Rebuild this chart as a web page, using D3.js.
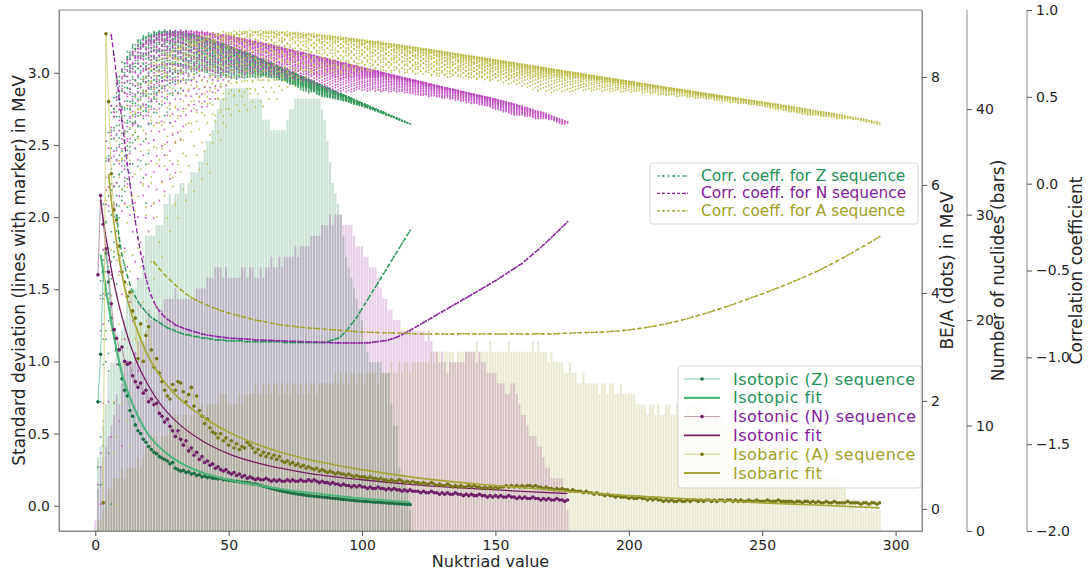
<!DOCTYPE html>
<html>
<head>
<meta charset="utf-8">
<script src="https://cdn.jsdelivr.net/npm/d3@7"></script>
<style>
  body { margin: 0; background: #fff; }
  svg { font-family: "DejaVu Sans", sans-serif; }
</style>
</head>
<body>
<svg id="chart" width="1088" height="576"></svg>
<script>
// ---- Nuclide chart: lightest and heaviest known neutron number for each Z = 1..118
const nMin = [0,1,1,1,2,2,3,4,5,6, 7,7,8,8,10,10,11,11,11,13,
  15,16,17,18,19,19,20,20,23,24, 25,26,27,29,30,31,33,34,35,37,
  38,39,41,42,43,44,45,46,47,49, 51,52,54,55,56,58,59,61,62,64,
  65,66,68,69,71,72,74,75,77,78, 80,81,82,84,85,86,87,88,90,91,
  94,96,100,102,105,107,110,113,116,118, 120,122,125,128,130,133,135,137,139,141,
  144,146,148,149,150,152,153,155,156,157, 161,164,165,170,172,173,174,175];
const nMax = [6,8,10,12,16,17,18,20,22,24, 26,28,30,30,32,33,34,36,38,40,
  42,43,45,46,47,49,50,51,53,55, 56,58,59,60,62,64,66,67,69,71,
  73,75,77,79,81,83,85,86,88,90, 92,93,95,96,97,99,100,101,102,104,
  105,106,106,107,109,109,111,112,114,115, 117,119,121,123,125,126,127,128,130,131,
  134,136,140,142,144,145,146,147,148,149, 150,151,152,153,154,156,157,158,159,160,
  161,162,163,164,165,167,168,169,170,171, 172,173,174,175,176,177,177,176];

// Liquid-drop (Bethe–Weizsäcker) coefficients in MeV for the BE/A dots
const ldmVolume = 15.75, ldmSurface = 17.8, ldmCoulomb = 0.711, ldmAsym = 23.7, ldmPairing = 11.18;

// ---- Standard deviation of each sequence (MeV), one value per integer
const sdZStart = 1;
const sdZ = [0.72,1.05,1.62,1.75,1.55,1.30,1.22,1.08,0.98,0.88,0.80,0.76,0.66,0.62,0.56,0.52,0.50,0.46,0.44,0.41,
  0.39,0.37,0.36,0.34,0.33,0.32,0.31,0.29,0.30,0.26,0.25,0.24,0.245,0.23,0.235,0.22,0.225,0.21,0.215,0.20,
  0.205,0.195,0.20,0.19,0.19,0.185,0.19,0.18,0.18,0.175,0.175,0.17,0.17,0.165,0.165,0.16,0.16,0.155,0.15,0.15,
  0.145,0.14,0.135,0.13,0.125,0.12,0.115,0.11,0.105,0.10,0.097,0.094,0.09,0.087,0.084,0.08,0.078,0.075,0.072,0.07,
  0.068,0.066,0.064,0.062,0.06,0.058,0.056,0.054,0.052,0.05,0.048,0.046,0.044,0.042,0.04,0.038,0.036,0.034,0.033,0.032,
  0.03,0.029,0.028,0.026,0.025,0.024,0.022,0.021,0.02,0.018,0.017,0.016,0.014,0.013,0.012,0.01,0.009,0.008];
const sdNStart = 1;
const sdN = [1.60,2.15,1.95,1.78,1.62,1.40,1.22,1.16,1.08,1.10,1.00,0.98,0.99,0.90,0.86,0.82,0.85,0.78,0.80,0.72,
  0.74,0.70,0.71,0.64,0.62,0.58,0.60,0.55,0.52,0.48,0.52,0.46,0.42,0.45,0.38,0.40,0.35,0.37,0.32,0.34,
  0.30,0.31,0.28,0.29,0.26,0.27,0.25,0.24,0.25,0.23,0.22,0.23,0.21,0.22,0.20,0.21,0.19,0.20,0.19,0.18,
  0.19,0.18,0.18,0.19,0.18,0.17,0.18,0.17,0.18,0.17,0.17,0.18,0.17,0.18,0.17,0.17,0.18,0.17,0.17,0.18,
  0.17,0.18,0.17,0.16,0.17,0.16,0.16,0.15,0.16,0.15,0.15,0.14,0.15,0.14,0.14,0.13,0.14,0.13,0.14,0.13,
  0.13,0.12,0.13,0.12,0.12,0.13,0.12,0.12,0.11,0.12,0.11,0.12,0.11,0.11,0.10,0.11,0.10,0.11,0.10,0.10,
  0.10,0.09,0.10,0.09,0.09,0.10,0.09,0.09,0.08,0.09,0.08,0.09,0.08,0.08,0.09,0.08,0.08,0.07,0.08,0.07,
  0.08,0.07,0.07,0.08,0.07,0.07,0.06,0.07,0.06,0.07,0.06,0.07,0.06,0.06,0.07,0.06,0.06,0.05,0.06,0.05,
  0.06,0.05,0.05,0.06,0.05,0.05,0.04,0.05,0.04,0.05,0.04,0.04,0.05,0.04,0.04,0.03,0.04];
const sdAStart = 3;
const sdA = [0.02,3.27,2.80,2.30,2.05,1.98,1.80,1.62,1.55,1.45,1.48,1.35,1.30,1.02,1.26,1.00,1.18,1.24,
  1.08,0.96,1.02,0.92,0.86,0.80,0.76,0.74,0.84,0.80,0.86,0.85,0.79,0.72,0.77,0.82,0.69,0.76,0.66,0.62,
  0.57,0.60,0.54,0.51,0.50,0.47,0.50,0.45,0.47,0.42,0.45,0.40,0.43,0.39,0.41,0.40,0.44,0.42,0.40,0.37,
  0.39,0.35,0.37,0.34,0.36,0.33,0.35,0.32,0.34,0.31,0.30,0.31,0.29,0.30,0.28,0.29,0.27,0.28,0.26,0.27,
  0.26,0.25,0.26,0.24,0.25,0.24,0.23,0.24,0.23,0.22,0.23,0.22,0.22,0.21,0.22,0.21,0.20,0.21,0.20,0.20,
  0.20,0.19,0.20,0.19,0.19,0.18,0.19,0.18,0.18,0.17,0.18,0.17,0.17,0.18,0.17,0.16,0.17,0.16,0.17,0.16,
  0.16,0.15,0.16,0.15,0.15,0.16,0.15,0.14,0.15,0.14,0.14,0.15,0.14,0.13,0.14,0.13,0.14,0.13,0.13,0.14,
  0.13,0.14,0.13,0.13,0.12,0.13,0.12,0.13,0.12,0.13,0.12,0.13,0.13,0.14,0.13,0.14,0.13,0.14,0.13,0.14,
  0.13,0.14,0.14,0.13,0.14,0.13,0.13,0.12,0.13,0.12,0.12,0.11,0.12,0.11,0.12,0.11,0.11,0.10,0.11,0.10,
  0.10,0.10,0.09,0.10,0.09,0.09,0.08,0.09,0.08,0.08,0.07,0.08,0.07,0.07,0.06,0.07,0.06,0.06,0.06,0.05,
  0.06,0.05,0.05,0.06,0.05,0.05,0.04,0.05,0.04,0.05,0.04,0.04,0.03,0.04,0.03,0.04,0.03,0.03,0.04,0.03,
  0.03,0.04,0.03,0.04,0.04,0.03,0.04,0.03,0.04,0.04,0.03,0.04,0.03,0.04,0.04,0.03,0.04,0.04,0.03,0.04,
  0.03,0.04,0.03,0.03,0.04,0.03,0.03,0.04,0.03,0.03,0.03,0.04,0.03,0.03,0.03,0.04,0.03,0.03,0.03,0.03,
  0.03,0.02,0.03,0.03,0.02,0.03,0.03,0.02,0.03,0.02,0.03,0.02,0.02,0.03,0.02,0.02,0.03,0.02,0.02,0.02,
  0.02,0.03,0.02,0.02,0.02,0.02,0.01,0.02,0.02,0.01,0.02,0.02,0.01,0.02];

// ---- Fitted curves (MeV) at selected nuktriad values
const fitZx = [2,3,4,5,6,8,10,12,15,20,25,30,40,50,60,70,80,90,100,110,118];
const fitZy = [1.74,1.62,1.50,1.38,1.27,1.08,0.92,0.80,0.66,0.49,0.39,0.32,0.23,0.18,0.145,0.115,0.09,0.07,0.05,0.035,0.025];
const fitNx = [2,3,4,5,6,8,10,12,15,20,25,30,40,50,60,80,100,120,140,160,177];
const fitNy = [2.12,1.98,1.86,1.75,1.64,1.46,1.31,1.18,1.02,0.83,0.69,0.59,0.45,0.36,0.30,0.225,0.18,0.145,0.12,0.10,0.085];
const fitAx = [5,6,8,10,12,15,20,25,30,40,50,60,80,100,120,150,180,200,225,250,270,294];
const fitAy = [2.30,2.12,1.82,1.60,1.43,1.25,1.03,0.88,0.77,0.62,0.51,0.43,0.32,0.25,0.195,0.14,0.095,0.07,0.045,0.02,0.005,-0.015];

// ---- Correlation coefficients
const corrZStart = 8, corrZStep = 1;
const corrZ = [-0.18,-0.31,-0.41,-0.47,-0.53,-0.58,-0.62,-0.65,-0.68,-0.70,-0.72,-0.74,-0.755,-0.77,-0.78,-0.79,-0.80,-0.81,-0.82,-0.83,-0.835,-0.84,-0.85,-0.855,-0.86,-0.865,-0.87,-0.87,-0.875,-0.88,-0.88,-0.885,-0.89,
  -0.89,-0.89,-0.895,-0.895,-0.90,-0.90,-0.90,-0.90,-0.905,-0.905,
  -0.905,-0.905,-0.905,-0.905,-0.905,-0.91,-0.91,-0.91,-0.91,-0.91,
  -0.91,-0.91,-0.91,-0.91,-0.91,-0.91,-0.91,-0.91,-0.91,-0.91,
  -0.915,-0.915,-0.915,-0.915,-0.915,-0.915,-0.915,-0.915,-0.915,-0.915,
  -0.915,-0.915,-0.915,-0.915,-0.915,-0.915,-0.91,-0.905,
  -0.90,-0.895,-0.89,-0.88,-0.865,-0.85,-0.83,-0.81,-0.79,-0.77,-0.745,-0.72,
  -0.695,-0.67,-0.645,-0.62,-0.595,-0.57,-0.545,-0.52,-0.495,-0.47,-0.445,-0.42,-0.395,-0.37,-0.345,-0.32,-0.295,-0.27];
const corrNStart = 6, corrNStep = 1;
const corrN = [0.856,0.741,0.614,0.488,0.361,0.234,0.113,-0.002,-0.111,-0.215,-0.313,-0.399,-0.474,-0.543,-0.600,
  -0.646,-0.681,-0.710,-0.733,-0.750,-0.768,-0.78,-0.791,-0.80,-0.814,
  -0.82,-0.826,-0.832,-0.837,-0.842,-0.847,-0.852,-0.856,-0.86,-0.865,
  -0.868,-0.871,-0.874,-0.877,-0.879,-0.881,-0.883,-0.885,-0.887,-0.888,
  -0.89,-0.891,-0.892,-0.893,-0.894,-0.895,-0.896,-0.897,-0.898,-0.90,
  -0.90,-0.901,-0.901,-0.902,-0.902,-0.903,-0.903,-0.904,-0.905,-0.906,
  -0.906,-0.907,-0.907,-0.908,-0.908,-0.909,-0.909,-0.91,-0.91,-0.911,
  -0.911,-0.912,-0.912,-0.913,-0.913,-0.914,-0.914,-0.915,-0.916,-0.917,
  -0.917,-0.917,-0.917,-0.917,-0.917,-0.917,-0.917,-0.917,-0.917,-0.917,
  -0.917,-0.916,-0.915,-0.913,-0.911,-0.909,-0.907,-0.905,-0.903,-0.90,
  -0.895,-0.89,-0.884,-0.877,-0.869,-0.861,-0.853,-0.845,-0.836,-0.827,
  -0.818,-0.809,-0.800,-0.791,-0.782,-0.773,-0.764,-0.755,-0.746,-0.737,
  -0.729,-0.72,-0.711,-0.702,-0.693,-0.684,-0.675,-0.666,-0.658,-0.649,
  -0.64,-0.631,-0.622,-0.613,-0.604,-0.595,-0.586,-0.577,-0.568,-0.559,
  -0.549,-0.539,-0.529,-0.519,-0.509,-0.499,-0.489,-0.479,-0.469,-0.459,
  -0.446,-0.433,-0.42,-0.407,-0.394,-0.381,-0.367,-0.353,-0.339,-0.325,
  -0.31,-0.295,-0.28,-0.265,-0.25,-0.235,-0.22];
const corrAStart = 22, corrAStep = 2;
const corrA = [-0.451,-0.49,-0.525,-0.555,-0.583,-0.61,-0.635,-0.655,-0.672,-0.687,-0.70,-0.713,-0.725,-0.735,-0.745,-0.753,-0.761,-0.769,-0.777,-0.785,
  -0.791,-0.797,-0.803,-0.809,-0.814,-0.818,-0.821,-0.825,-0.828,-0.831,-0.833,-0.835,-0.838,-0.84,-0.842,-0.845,-0.847,-0.85,-0.852,-0.854,
  -0.855,-0.856,-0.857,-0.858,-0.859,-0.86,-0.861,-0.862,-0.863,-0.865,
  -0.865,-0.866,-0.865,-0.864,-0.865,-0.866,-0.865,-0.865,-0.864,-0.865,-0.866,-0.865,-0.865,-0.864,-0.865,-0.866,-0.865,-0.864,-0.865,-0.865,-0.866,-0.865,-0.864,-0.865,-0.865,
  -0.864,-0.863,-0.862,-0.861,-0.859,
  -0.858,-0.857,-0.856,-0.855,-0.854,-0.852,-0.85,-0.848,-0.845,-0.842,
  -0.838,-0.834,-0.829,-0.824,-0.819,-0.813,-0.807,-0.8,-0.793,-0.785,-0.777,-0.768,-0.759,
  -0.75,-0.741,-0.731,-0.721,-0.711,-0.701,-0.69,-0.679,-0.668,-0.657,-0.646,-0.635,
  -0.623,-0.611,-0.599,-0.587,-0.575,-0.562,-0.549,-0.536,-0.522,-0.508,
  -0.494,-0.478,-0.462,-0.446,-0.43,-0.413,-0.396,-0.378,-0.36,-0.342,-0.324,-0.305];

// ---- Tick values
const xTicks = [0,50,100,150,200,250,300];
const sdTicks = [0,0.5,1,1.5,2,2.5,3];
const beTicks = [0,2,4,6,8];
const countTicks = [0,10,20,30,40];
const corrTicks = [-2,-1.5,-1,-0.5,0,0.5,1];

// ---- Series styling
const series = {
  Z: { bar:"#2e8b57", barOp:0.25, dot:"#3a9a62", seqLine:"#72c4a6", seqMark:"#1f6e45", fit:"#4cb57a", fitW:2.0, corr:"#2e9a5c", text:"#25905a" },
  N: { bar:"#800080", barOp:0.19, dot:"#bf4cc0", seqLine:"#b08aa0", seqMark:"#6e1f66", fit:"#762060", fitW:1.3, corr:"#8e2aa0", text:"#82209a" },
  A: { bar:"#808000", barOp:0.17, dot:"#bcbc48", seqLine:"#cfcf86", seqMark:"#76761a", fit:"#a6a636", fitW:1.6, corr:"#a4a42c", text:"#a0a028" }
};

// ---- Geometry
const L = 59, R = 922, T = 10, B = 531;
const x = d3.scaleLinear().domain([-13.6, 309.9]).range([L, R]);
const ySd = d3.scaleLinear().domain([-0.175, 3.435]).range([B, T]);
const yBe = d3.scaleLinear().domain([-0.41, 9.24]).range([B, T]);
const yCount = d3.scaleLinear().domain([0, 49.4]).range([B, T]);
const yCorr = d3.scaleLinear().domain([-2, 1]).range([B, T]);

const svg = d3.select("#chart");
svg.append("defs").append("clipPath").attr("id", "plotArea")
  .append("rect").attr("x", L).attr("y", T).attr("width", R - L).attr("height", B - T);
const plot = svg.append("g").attr("clip-path", "url(#plotArea)");

// ---- Build the nuclide list, counts per sequence and BE/A per nuclide
const nuclides = [];
const countZ = new Map(), countN = new Map(), countA = new Map();
nMin.forEach((lo, i) => {
  const Z = i + 1;
  for (let N = lo; N <= nMax[i]; N++) {
    const A = Z + N;
    let be = ldmVolume * A - ldmSurface * Math.cbrt(A * A) - ldmCoulomb * Z * (Z - 1) / Math.cbrt(A)
      - ldmAsym * (N - Z) * (N - Z) / A;
    if (Z % 2 === 0 && N % 2 === 0) be += ldmPairing / Math.sqrt(A);
    else if (Z % 2 === 1 && N % 2 === 1) be -= ldmPairing / Math.sqrt(A);
    nuclides.push({ Z, N, A, beA: be / A });
    countZ.set(Z, (countZ.get(Z) || 0) + 1);
    countN.set(N, (countN.get(N) || 0) + 1);
    countA.set(A, (countA.get(A) || 0) + 1);
  }
});

// ---- Bars: number of nuclides per sequence value
function drawBars(counts, s) {
  plot.append("g").attr("fill", s.bar).attr("fill-opacity", s.barOp)
    .selectAll("rect").data(Array.from(counts)).join("rect")
    .attr("x", d => x(d[0] - 0.4))
    .attr("width", d => x(d[0] + 0.4) - x(d[0] - 0.4))
    .attr("y", d => yCount(d[1]))
    .attr("height", d => yCount(0) - yCount(d[1]));
}
drawBars(countZ, series.Z);
drawBars(countN, series.N);
drawBars(countA, series.A);

// ---- Dots: binding energy per nucleon
const bound = nuclides.filter(d => d.beA > 0);
["Z", "N", "A"].forEach(key => {
  plot.append("g").attr("fill", series[key].dot).attr("fill-opacity", 0.85)
    .selectAll("circle").data(bound).join("circle")
    .attr("cx", d => x(d[key])).attr("cy", d => yBe(d.beA)).attr("r", 0.95);
});

// ---- Standard deviation sequences and fits
function seqPoints(start, vals, step = 1) { return vals.map((v, i) => [start + i * step, v]); }
function drawSequence(pts, s) {
  const g = plot.append("g");
  g.append("path").datum(pts)
    .attr("d", d3.line().x(d => x(d[0])).y(d => ySd(d[1])))
    .attr("fill", "none").attr("stroke", s.seqLine).attr("stroke-width", 0.9);
  g.selectAll("circle").data(pts).join("circle")
    .attr("cx", d => x(d[0])).attr("cy", d => ySd(d[1])).attr("r", 1.8)
    .attr("fill", s.seqMark);
}
function drawFit(xs, ys, s) {
  plot.append("path").datum(xs.map((v, i) => [v, ys[i]]))
    .attr("d", d3.line().curve(d3.curveMonotoneX).x(d => x(d[0])).y(d => ySd(d[1])))
    .attr("fill", "none").attr("stroke", s.fit).attr("stroke-width", s.fitW);
}
drawSequence(seqPoints(sdZStart, sdZ), series.Z);
drawFit(fitZx, fitZy, series.Z);
drawSequence(seqPoints(sdNStart, sdN), series.N);
drawFit(fitNx, fitNy, series.N);
drawSequence(seqPoints(sdAStart, sdA), series.A);
drawFit(fitAx, fitAy, series.A);

// ---- Correlation coefficients
function drawCorr(pts, s) {
  const g = plot.append("g");
  g.append("path").datum(pts)
    .attr("d", d3.line().x(d => x(d[0])).y(d => yCorr(d[1])))
    .attr("fill", "none").attr("stroke", s.corr).attr("stroke-width", 1.3)
    .attr("stroke-dasharray", "5,2.5");
  g.selectAll("circle").data(pts).join("circle")
    .attr("cx", d => x(d[0])).attr("cy", d => yCorr(d[1])).attr("r", 1.0)
    .attr("fill", s.corr);
}
drawCorr(seqPoints(corrZStart, corrZ, corrZStep), series.Z);
drawCorr(seqPoints(corrNStart, corrN, corrNStep), series.N);
drawCorr(seqPoints(corrAStart, corrA, corrAStep), series.A);

// ---- Frame and axes
const frameColor = "#8a8a8a", textColor = "#262626";
svg.append("rect").attr("x", L).attr("y", T).attr("width", R - L).attr("height", B - T)
  .attr("fill", "none").attr("stroke", frameColor).attr("stroke-width", 1);

function styleAxis(g) {
  g.select(".domain").attr("stroke", frameColor);
  g.selectAll(".tick line").attr("stroke", "#555");
  g.selectAll(".tick text").attr("fill", textColor).attr("font-size", 14)
    .attr("font-family", "DejaVu Sans, sans-serif");
}
const fmt1 = d3.format(".1f");
svg.append("g").attr("transform", `translate(${L},0)`)
  .call(d3.axisLeft(ySd).tickValues(sdTicks).tickFormat(fmt1).tickSize(5).tickSizeOuter(0).tickPadding(4))
  .call(styleAxis);
svg.append("g").attr("transform", `translate(0,${B})`)
  .call(d3.axisBottom(x).tickValues(xTicks).tickFormat(d3.format("d")).tickSize(5).tickSizeOuter(0).tickPadding(4))
  .call(styleAxis);
svg.append("g").attr("transform", `translate(${R},0)`)
  .call(d3.axisRight(yBe).tickValues(beTicks).tickFormat(d3.format("d")).tickSize(5).tickSizeOuter(0).tickPadding(4))
  .call(styleAxis);
const countAxis = svg.append("g").attr("transform", "translate(967,0)")
  .call(d3.axisRight(yCount).tickValues(countTicks).tickFormat(d3.format("d")).tickSize(5).tickSizeOuter(0).tickPadding(4))
  .call(styleAxis);
countAxis.select(".domain").attr("d", `M0,${T}V${B}`);
const corrAxis = svg.append("g").attr("transform", "translate(1027,0)")
  .call(d3.axisRight(yCorr).tickValues(corrTicks).tickFormat(fmt1).tickSize(5).tickSizeOuter(0).tickPadding(4))
  .call(styleAxis);
corrAxis.select(".domain").attr("d", `M0,${T}V${B}`);

// ---- Axis titles
function vLabel(cx, text) {
  svg.append("text").attr("transform", `translate(${cx},${(T + B) / 2}) rotate(-90)`)
    .attr("text-anchor", "middle").attr("dominant-baseline", "central")
    .attr("font-size", 17).attr("fill", textColor).text(text);
}
vLabel(19, "Standard deviation (lines with marker) in MeV");
vLabel(947, "BE/A (dots) in MeV");
vLabel(998, "Number of nuclides (bars)");
vLabel(1076, "Correlation coefficient");
svg.append("text").attr("x", (L + R) / 2).attr("y", 567).attr("text-anchor", "middle")
  .attr("font-size", 16).attr("fill", textColor).text("Nuktriad value");

// ---- Legend: correlation coefficients
const corrLegend = svg.append("g");
corrLegend.append("rect").attr("x", 650).attr("y", 163).attr("width", 268).attr("height", 61).attr("rx", 3)
  .attr("fill", "#fff").attr("fill-opacity", 0.85).attr("stroke", "#d6d6d6");
[["Corr. coeff. for Z sequence", series.Z], ["Corr. coeff. for N sequence", series.N], ["Corr. coeff. for A sequence", series.A]]
  .forEach(([label, s], i) => {
    const yy = 176 + i * 17.4;
    corrLegend.append("line").attr("x1", 657).attr("x2", 688).attr("y1", yy).attr("y2", yy)
      .attr("stroke", s.corr).attr("stroke-width", 1.2).attr("stroke-dasharray", "3,2");
    [663, 674, 685].forEach(cx => corrLegend.append("circle").attr("cx", cx).attr("cy", yy).attr("r", 0.9).attr("fill", s.corr));
    corrLegend.append("text").attr("x", 701).attr("y", yy).attr("dominant-baseline", "central")
      .attr("font-size", 15.4).attr("fill", s.text).text(label);
  });

// ---- Legend: standard deviations and fits
const sdLegend = svg.append("g");
sdLegend.append("rect").attr("x", 678).attr("y", 366).attr("width", 243).attr("height", 122).attr("rx", 3)
  .attr("fill", "#fff").attr("fill-opacity", 0.8).attr("stroke", "#d6d6d6");
[["Isotopic (Z) sequence", series.Z, "seq"], ["Isotopic fit", series.Z, "fit"],
 ["Isotonic (N) sequence", series.N, "seq"], ["Isotonic fit", series.N, "fit"],
 ["Isobaric (A) sequence", series.A, "seq"], ["Isobaric fit", series.A, "fit"]]
  .forEach(([label, s, kind], i) => {
    const yy = 379 + i * 18.8;
    if (kind === "seq") {
      sdLegend.append("line").attr("x1", 684).attr("x2", 720).attr("y1", yy).attr("y2", yy)
        .attr("stroke", s.seqLine).attr("stroke-width", 0.9);
      sdLegend.append("circle").attr("cx", 702).attr("cy", yy).attr("r", 1.8).attr("fill", s.seqMark);
    } else {
      sdLegend.append("line").attr("x1", 684).attr("x2", 720).attr("y1", yy).attr("y2", yy)
        .attr("stroke", s.fit).attr("stroke-width", s.fitW + 0.3);
    }
    sdLegend.append("text").attr("x", 733).attr("y", yy).attr("dominant-baseline", "central")
      .attr("font-size", 16).attr("letter-spacing", 0.45).attr("fill", s.text).text(label);
  });
</script>
</body>
</html>
